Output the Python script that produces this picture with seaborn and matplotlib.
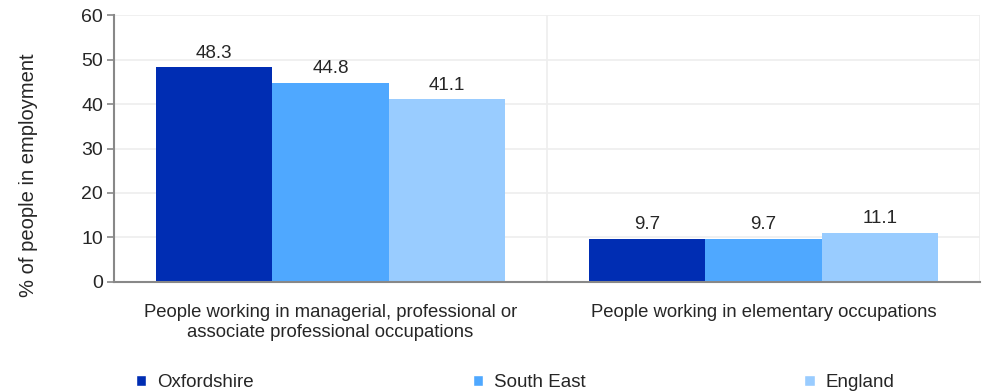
import pandas as pd
import matplotlib.pyplot as plt
import seaborn as sns
from matplotlib.patches import Patch

categories = ['People working in managerial, professional or\nassociate professional occupations',
              'People working in elementary occupations']
areas = ['Oxfordshire', 'South East', 'England']
oxfordshire = [48.3, 9.7]
south_east = [44.8, 9.7]
england = [41.1, 11.1]
colors = ['#002DB3', '#4FA8FF', '#99CCFF']

df = pd.DataFrame({
    'Category': categories * 3,
    'Area': [a for a in areas for _ in categories],
    'Value': oxfordshire + south_east + england,
})

sns.set_style('white')
plt.rcParams['font.family'] = ['Liberation Sans', 'DejaVu Sans']

fig = plt.figure(figsize=(9.84, 3.91), dpi=100)
ax = fig.add_axes([0.1159, 0.2788, 0.88, 0.6828])

sns.barplot(data=df, x='Category', y='Value', hue='Area', palette=colors,
            width=0.806, saturation=1, legend=False, linewidth=0, ax=ax)

for cont in ax.containers:
    ax.bar_label(cont, fmt='%.1f', padding=4, fontsize=13.5)

ax.set_ylim(0, 60)
ax.set_xlim(-0.5, 1.5)
ax.set_yticks(range(0, 61, 10))
ax.set_xticks([-0.5, 0.5, 1.5], minor=True)
ax.tick_params(axis='x', which='major', length=0, pad=16, labelsize=13.3)
ax.tick_params(axis='x', which='minor', length=5, width=1.2, color='#888888')
ax.tick_params(axis='y', length=5, width=1.2, color='#888888', labelsize=14, pad=3, left=True)
ax.grid(axis='y', color='#EEEEEE', linewidth=1.2)
ax.grid(axis='x', which='minor', color='#EEEEEE', linewidth=1.2)
ax.set_axisbelow(True)
ax.set_xlabel('')
ax.set_ylabel('% of people in employment', fontsize=14.5)
ax.yaxis.set_label_coords(-0.088, 0.40)

for side in ['top', 'right']:
    ax.spines[side].set_visible(False)
for side in ['left', 'bottom']:
    ax.spines[side].set_color('#888888')
    ax.spines[side].set_linewidth(1.5)

handles = [Patch(facecolor=c, label=a) for a, c in zip(areas, colors)]
fig.legend(handles=handles, loc='lower left', ncol=3, mode='expand',
           bbox_to_anchor=(0.121, -0.043, 0.8055, 0.06), frameon=False,
           fontsize=13.5, handlelength=0.55, handleheight=0.55, handletextpad=0.6)

fig.savefig('out.png', dpi=100)
